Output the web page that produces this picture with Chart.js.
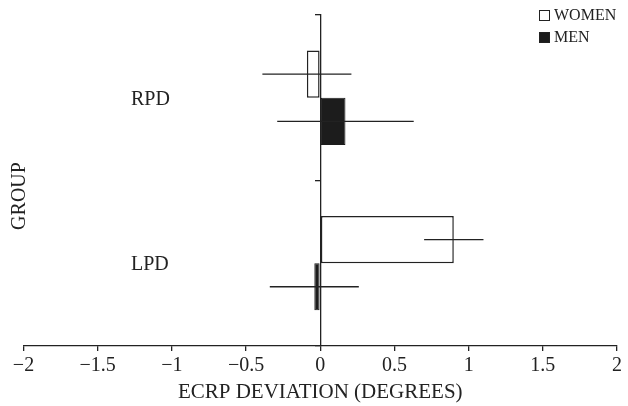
<!DOCTYPE html>
<html>
<head>
<meta charset="utf-8">
<script src="https://cdn.jsdelivr.net/npm/chart.js@4.4.1/dist/chart.umd.min.js"></script>
<style>
  body { margin: 0; background: #fff; }
  #wrap { position: relative; width: 628px; height: 406px; }
  #legend { position: absolute; left: 539px; top: 4px; font: 16px "Liberation Serif", serif; color: #222; }
  #legend div { height: 22px; line-height: 22px; white-space: nowrap; }
  #legend span.box { display: inline-block; width: 9px; height: 9px; border: 1px solid #222; margin-right: 4px; vertical-align: -1px; }
</style>
</head>
<body>
<div id="wrap">
  <canvas id="chart" width="628" height="406"></canvas>
  <div id="legend"></div>
</div>
<script>
const groups = ["RPD", "LPD"];
const seriesNames = ["WOMEN", "MEN"];
const womenMeans = [-0.09, 0.9];
const womenErrors = [0.30, 0.20];
const menMeans = [0.17, -0.04];
const menErrors = [0.46, 0.30];
const xTicks = [-2, -1.5, -1, -0.5, 0, 0.5, 1, 1.5, 2];

const ink = "#222";
const serif = "'Liberation Serif', 'Times New Roman', serif";

// error bars drawn on top of the bars, no caps
const errorBars = {
  id: "errorBars",
  afterDatasetsDraw(chart) {
    const ctx = chart.ctx;
    const xs = chart.scales.x;
    chart.data.datasets.forEach((ds, i) => {
      const meta = chart.getDatasetMeta(i);
      meta.data.forEach((bar, j) => {
        const v = ds.data[j], e = ds.errors[j];
        ctx.save();
        ctx.strokeStyle = ink;
        ctx.lineWidth = 1.3;
        ctx.beginPath();
        ctx.moveTo(xs.getPixelForValue(v - e), bar.y);
        ctx.lineTo(xs.getPixelForValue(v + e), bar.y);
        ctx.stroke();
        ctx.restore();
      });
    });
  }
};

// group names sit well left of the zero axis, plus the rotated axis title
const groupLabels = {
  id: "groupLabels",
  afterDraw(chart) {
    const ctx = chart.ctx;
    const ys = chart.scales.y;
    ctx.save();
    ctx.font = "20px " + serif;
    ctx.fillStyle = ink;
    ctx.textBaseline = "middle";
    ctx.textAlign = "left";
    groups.forEach((g, i) => {
      ctx.fillText(g, 131, ys.getPixelForValue(i) + 2);
    });
    ctx.translate(20, 196);
    ctx.rotate(-Math.PI / 2);
    ctx.textAlign = "center";
    ctx.fillText("GROUP", 0, 0);
    ctx.restore();
  }
};

const chart = new Chart(document.getElementById("chart"), {
  type: "bar",
  data: {
    labels: groups,
    datasets: [
      {
        label: seriesNames[0],
        data: womenMeans,
        errors: womenErrors,
        backgroundColor: "#fff",
        borderColor: ink,
        borderWidth: 1.5,
        borderSkipped: false
      },
      {
        label: seriesNames[1],
        data: menMeans,
        errors: menErrors,
        backgroundColor: "#1c1c1c",
        borderColor: "#1c1c1c",
        borderWidth: 1,
        borderSkipped: false
      }
    ]
  },
  options: {
    indexAxis: "y",
    responsive: false,
    animation: false,
    barPercentage: 1,
    categoryPercentage: 0.57,
    layout: { padding: { top: 15, left: 23.5, right: 11, bottom: 2 } },
    plugins: {
      legend: { display: false },
      tooltip: { enabled: false }
    },
    scales: {
      x: {
        type: "linear",
        min: -2,
        max: 2,
        afterBuildTicks: (axis) => { axis.ticks = xTicks.map(v => ({ value: v })); },
        grid: { drawOnChartArea: false, tickLength: 5, color: ink, lineWidth: 1.3 },
        border: { color: ink, width: 1.3 },
        ticks: {
          padding: 3,
          color: ink,
          maxRotation: 0,
          font: { family: serif, size: 20 },
          callback: (v) => String(v).replace("-", "\u2212")
        },
        title: {
          display: true,
          text: "ECRP DEVIATION (DEGREES)",
          color: ink,
          font: { family: serif, size: 21, lineHeight: 1.1 },
          padding: { top: 0, bottom: 0 }
        }
      },
      y: {
        type: "category",
        position: { x: 0 },
        offset: true,
        grid: { offset: true, drawOnChartArea: false, tickLength: 5, color: ink, lineWidth: 1.3 },
        border: { color: ink, width: 1.3 },
        ticks: { display: false }
      }
    }
  },
  plugins: [errorBars, groupLabels]
});

// legend as plain html
const legend = document.getElementById("legend");
chart.data.datasets.forEach((ds) => {
  const row = document.createElement("div");
  const box = document.createElement("span");
  box.className = "box";
  box.style.background = ds.backgroundColor;
  row.appendChild(box);
  row.appendChild(document.createTextNode(ds.label));
  legend.appendChild(row);
});
</script>
</body>
</html>
